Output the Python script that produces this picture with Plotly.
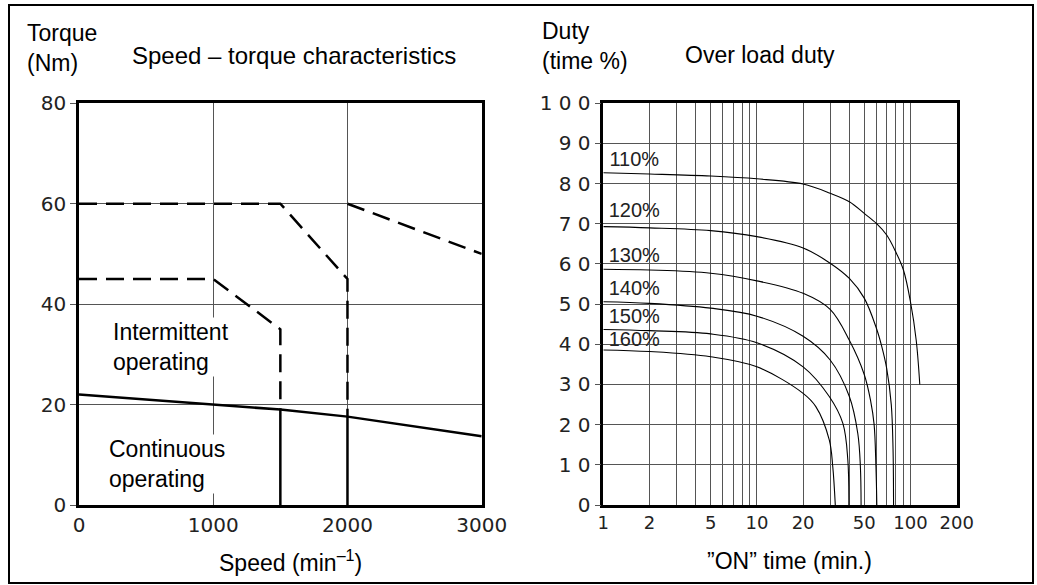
import plotly.graph_objects as go

# ---- speed / torque chart ----
speed_cont = [0, 1000, 1500, 2000, 3000]
torque_cont = [22, 20, 19, 17.6, 13.7]

speed_int_a = [0, 1000, 1500, 1500]
torque_int_a = [45, 45, 35, 19]
speed_int_b = [0, 1500, 2000, 2000]
torque_int_b = [60, 60, 45, 17.6]
speed_int_c = [2000, 3000]
torque_int_c = [60, 50]

speed_vert = [[1500, 1500], [2000, 2000]]
torque_vert = [[0, 19], [0, 17.6]]

# ---- over load duty chart ----
load_labels = ["110%", "120%", "130%", "140%", "150%", "160%"]
on_time = [
    [1, 2, 5, 10, 20, 30, 40, 50, 60, 70, 80, 90, 100, 109, 115],
    [1, 2, 5, 10, 20, 30, 40, 50, 60, 65, 70, 75, 77, 77.6],
    [1, 2, 5, 10, 20, 30, 40, 50, 55, 58, 59.6, 60.4],
    [1, 2, 5, 10, 20, 30, 40, 45.4, 47.2, 47.7],
    [1, 2, 5, 10, 20, 29.6, 36.3, 39.1, 39.7],
    [1, 2, 5, 10, 20, 24.2, 29.6, 31.2, 32.4],
]
duty = [
    [82.7, 82.4, 81.9, 81.2, 79.9, 77.6, 75.5, 72.6, 70.1, 67.2, 63.1, 58.5, 50.6, 41, 30],
    [69.3, 69.0, 68.3, 66.8, 64.0, 60.2, 56.4, 51.5, 44, 39.5, 34, 25, 14, 0],
    [58.7, 58.5, 57.7, 55.8, 52.7, 48.7, 41, 32.5, 26, 20, 9.5, 0],
    [50.6, 50.2, 49.0, 47.0, 42.0, 36.1, 27.0, 17.8, 9.5, 0],
    [43.7, 43.4, 42.6, 40.4, 34.4, 27.0, 20.3, 11.2, 0],
    [38.6, 38.2, 36.9, 34.4, 27.8, 24.5, 16.2, 9.5, 0],
]
label_time = [1.59, 1.59, 1.59, 1.59, 1.59, 1.59]
label_duty = [85.6, 72.9, 61.7, 53.5, 46.5, 40.8]

W, H = 1037, 585


def px(x):
    return x / W


def py(y):
    return 1 - y / H


TEXT_FONT = "Liberation Sans, Arial, sans-serif"
TICK_FONT = dict(family="DejaVu Sans ExtraLight, DejaVu Sans, sans-serif", size=20, color="#222")
GRID = "#555"

fig = go.Figure()

# left chart lines
fig.add_trace(go.Scatter(x=speed_cont, y=torque_cont, mode="lines",
                         line=dict(color="black", width=2.5), xaxis="x", yaxis="y"))
for sx, ty in zip(speed_vert, torque_vert):
    fig.add_trace(go.Scatter(x=sx, y=ty, mode="lines",
                             line=dict(color="black", width=2.5), xaxis="x", yaxis="y"))
for sx, ty in [(speed_int_a, torque_int_a), (speed_int_b, torque_int_b), (speed_int_c, torque_int_c)]:
    fig.add_trace(go.Scatter(x=sx, y=ty, mode="lines",
                             line=dict(color="black", width=2.5, dash="18px,9px"),
                             xaxis="x", yaxis="y"))

# right chart curves
for t, d in zip(on_time, duty):
    fig.add_trace(go.Scatter(x=t, y=d, mode="lines", line_shape="spline",
                             line=dict(color="black", width=1.1, smoothing=1.0),
                             xaxis="x2", yaxis="y2"))

fig.add_trace(go.Scatter(x=label_time, y=label_duty, mode="text", text=load_labels,
                         textfont=dict(family="DejaVu Sans ExtraLight, Liberation Sans Narrow, sans-serif",
                                       size=20, color="#222"),
                         xaxis="x2", yaxis="y2"))

ydom = [py(505), py(103.3)]
axis_common = dict(showgrid=True, gridcolor=GRID, gridwidth=1, zeroline=False,
                   showline=True, linecolor="black", linewidth=2.5, mirror=True,
                   automargin=False)

fig.update_layout(
    width=W, height=H,
    margin=dict(l=0, r=0, t=0, b=0, autoexpand=False),
    paper_bgcolor="white", plot_bgcolor="white",
    showlegend=False,
    xaxis=dict(axis_common, domain=[px(79), px(481.7)], range=[0, 3000],
               tickvals=[0, 1000, 2000, 3000], ticktext=["0", "1000", "2000", "3000"],
               tickfont=TICK_FONT, ticks=""),
    yaxis=dict(axis_common, domain=ydom, range=[0, 80],
               tickvals=[0, 20, 40, 60, 80], ticktext=["0", "20", "40", "60", "80"],
               tickfont=TICK_FONT, ticks="outside", ticklen=6, tickcolor=GRID),
    xaxis2=dict(axis_common, domain=[px(603.3), px(956.7)], type="log", range=[0, 2.30103],
                tickvals=[1, 2, 5, 10, 20, 50, 100, 200],
                ticktext=["1", "2", "5", "10", "20", "50", "100", "200"],
                tickfont=dict(TICK_FONT, size=18),
                minor=dict(tickvals=[3, 4, 6, 7, 8, 9, 30, 40, 60, 70, 80, 90],
                           showgrid=True, gridcolor=GRID, gridwidth=1, ticks=""),
                ticks="", anchor="y2"),
    yaxis2=dict(axis_common, domain=ydom, range=[0, 100], anchor="x2",
                tickvals=[0, 10, 20, 30, 40, 50, 60, 70, 80, 90, 100],
                ticktext=["0", "1 0", "2 0", "3 0", "4 0", "5 0", "6 0", "7 0", "8 0", "9 0", "1 0 0"],
                tickfont=TICK_FONT, ticks="outside", ticklen=6, tickcolor=GRID),
)

anns = [
    dict(text="Torque<br>(Nm)", x=px(25), y=py(48), xanchor="left", yanchor="middle", align="left"),
    dict(text="Speed – torque characteristics", x=px(130), y=py(55), xanchor="left", yanchor="middle", size=24),
    dict(text="Duty<br>(time %)", x=px(540), y=py(46), xanchor="left", yanchor="middle", align="left"),
    dict(text="Over load duty", x=px(683), y=py(55), xanchor="left", yanchor="middle"),
    dict(text="Speed (min<sup>–1</sup>)", x=px(290), y=py(561), xanchor="center", yanchor="middle"),
    dict(text="”ON” time (min.)", x=px(789), y=py(561), xanchor="center", yanchor="middle"),
]
for a in anns:
    size = a.pop("size", 23)
    fig.add_annotation(xref="paper", yref="paper", showarrow=False,
                       font=dict(family=TEXT_FONT, size=size, color="black"), **a)

# region labels inside the speed-torque chart (white box hides the grid line)
fig.add_annotation(xref="x", yref="y", x=240, y=31.5, text="Intermittent<br>operating",
                   xanchor="left", yanchor="middle", align="left", showarrow=False,
                   bgcolor="white", font=dict(family=TEXT_FONT, size=23, color="black"))
fig.add_annotation(xref="x", yref="y", x=210, y=8.2, text="Continuous<br>operating",
                   xanchor="left", yanchor="middle", align="left", showarrow=False,
                   bgcolor="white", font=dict(family=TEXT_FONT, size=23, color="black"))

# outer frame
fig.add_shape(type="rect", xref="paper", yref="paper",
              x0=px(9), x1=px(1033), y0=py(583), y1=py(5),
              line=dict(color="black", width=2))

# drop the default 8px page margin so the figure sits at the window origin
fig.write_html("out.html", config={"displayModeBar": False},
               post_script="document.body.style.margin='0';")
